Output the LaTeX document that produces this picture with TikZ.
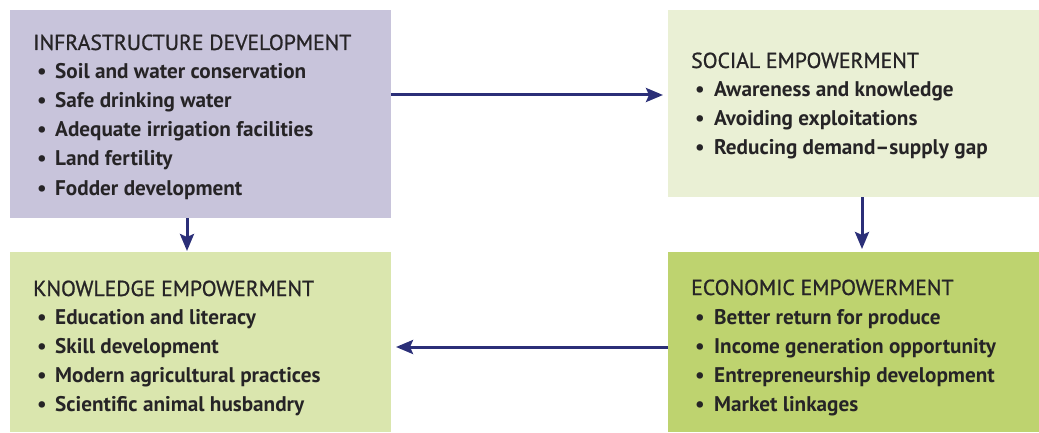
\documentclass[tikz,border=0pt]{standalone}
\usepackage{fontspec}
\setmainfont{PT Sans}
\newfontfamily\headfont[FakeBold=0.9]{PT Sans}
\usetikzlibrary{arrows.meta}
\definecolor{infraC}{RGB}{200,196,219}
\definecolor{socialC}{RGB}{234,240,213}
\definecolor{knowC}{RGB}{218,230,174}
\definecolor{econC}{RGB}{190,211,111}
\definecolor{arrC}{RGB}{43,47,120}
\definecolor{txtC}{RGB}{38,36,38}
\begin{document}
\begin{tikzpicture}[x=1pt,y=-1pt,
  box/.style={draw=none, inner sep=0pt, outer sep=0pt, anchor=north west},
  title/.style={anchor=base west, inner sep=0pt, text=txtC, font=\headfont\fontsize{21.7}{25}\selectfont},
  item/.style={anchor=base west, inner sep=0pt, text=txtC, font=\fontsize{21.2}{25}\selectfont\bfseries},
  arr/.style={draw=arrC, line width=3pt, -{Stealth[length=17pt,width=14pt,inset=3pt]}}
]
\useasboundingbox (0,0) rectangle (1039,433);
% boxes
\node[box, fill=infraC, minimum width=381pt, minimum height=208pt] (infra) at (10,10) {};
\node[box, fill=socialC, minimum width=371pt, minimum height=187pt] (social) at (668,10) {};
\node[box, fill=knowC, minimum width=381pt, minimum height=180pt] (know) at (10,252) {};
\node[box, fill=econC, minimum width=371pt, minimum height=180pt] (econ) at (668,252) {};
% infra text
\node[title] (infraT) at (33,50) {INFRASTRUCTURE DEVELOPMENT};
\node[item] (infra1) at (37,79) {\makebox[18pt][l]{\textbullet}Soil and water conservation};
\node[item] (infra2) at (37,108) {\makebox[18pt][l]{\textbullet}Safe drinking water};
\node[item] (infra3) at (37,137) {\makebox[18pt][l]{\textbullet}Adequate irrigation facilities};
\node[item] (infra4) at (37,166) {\makebox[18pt][l]{\textbullet}Land fertility};
\node[item] (infra5) at (37,195) {\makebox[18pt][l]{\textbullet}Fodder development};
% social text
\node[title] (socialT) at (691,68) {SOCIAL EMPOWERMENT};
\node[item] (social1) at (695,97) {\makebox[19pt][l]{\textbullet}Awareness and knowledge};
\node[item] (social2) at (695,126) {\makebox[19pt][l]{\textbullet}Avoiding exploitations};
\node[item] (social3) at (695,155) {\makebox[19pt][l]{\textbullet}Reducing demand–supply gap};
% knowledge text
\node[title] (knowT) at (33,296) {KNOWLEDGE EMPOWERMENT};
\node[item] (know1) at (37,324) {\makebox[18pt][l]{\textbullet}Education and literacy};
\node[item] (know2) at (37,353) {\makebox[18pt][l]{\textbullet}Skill development};
\node[item] (know3) at (37,382) {\makebox[18pt][l]{\textbullet}Modern agricultural practices};
\node[item] (know4) at (37,411) {\makebox[18pt][l]{\textbullet}Scientific animal husbandry};
% economic text
\node[title] (econT) at (691,295) {ECONOMIC EMPOWERMENT};
\node[item] (econ1) at (695,324) {\makebox[19pt][l]{\textbullet}Better return for produce};
\node[item] (econ2) at (695,353) {\makebox[19pt][l]{\textbullet}Income generation opportunity};
\node[item] (econ3) at (695,382) {\makebox[19pt][l]{\textbullet}Entrepreneurship development};
\node[item] (econ4) at (695,411) {\makebox[19pt][l]{\textbullet}Market linkages};
% connectors
\coordinate (topY) at (0,95);
\coordinate (botY) at (0,347);
\coordinate (leftX) at (187,0);
\coordinate (rightX) at (862,0);
\draw[arr, shorten >=5pt] (infra.east |- topY) -- (social.west |- topY);
\draw[arr, shorten >=1pt] (infra.south -| leftX) -- (know.north -| leftX);
\draw[arr, shorten >=3pt] (social.south -| rightX) -- (econ.north -| rightX);
\draw[arr, shorten >=5pt] (econ.west |- botY) -- (know.east |- botY);
\end{tikzpicture}
\end{document}
